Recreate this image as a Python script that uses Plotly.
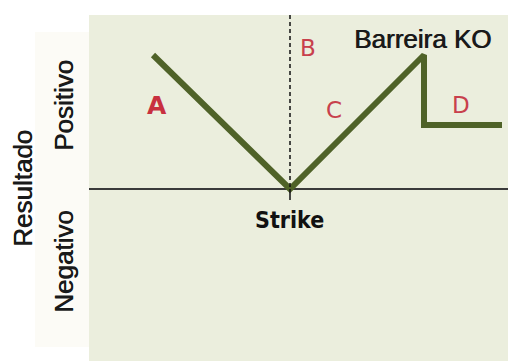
import plotly.graph_objects as go

# Payoff profile (units: horizontal = underlying level, vertical = result)
spot = [64, 201, 335, 335, 413]
payoff = [134, 0, 134, 64, 64]
strike = 201
barrier = 335

region_labels = ["A", "B", "C", "D"]
region_x = [68, 219, 245, 372]
region_y = [84, 141, 79, 84]

x_range = [0, 419]
y_range = [-172, 174]

fig = go.Figure()
fig.add_trace(go.Scatter(
    x=spot, y=payoff, mode="lines",
    line=dict(color="#4F6228", width=6),
    hoverinfo="skip", showlegend=False,
))

# strike dashed line and tick below axis
fig.add_shape(type="line", xref="x", yref="y", x0=strike, x1=strike, y0=y_range[1], y1=0,
              line=dict(color="#111111", width=1.5, dash="4px,3px"))
fig.add_shape(type="line", xref="x", yref="y", x0=strike, x1=strike, y0=0, y1=-11,
              line=dict(color="#111111", width=1.5))

# left label strip
fig.add_shape(type="rect", xref="paper", yref="paper",
              x0=(35 - 89) / 419, x1=0, y0=(361 - 347) / 346, y1=(361 - 32) / 346,
              fillcolor="#FCFBF6", line=dict(width=0), layer="below")

for lab, xx, yy in zip(region_labels, region_x, region_y):
    if lab == "A":
        f = dict(family="DejaVu Sans, Tahoma, sans-serif", size=25, color="#C8303F")
        lab_text = "<b>A</b>"
    else:
        f = dict(family="DejaVu Sans, Tahoma, sans-serif", size=23, color="#C8404C")
        lab_text = lab
    fig.add_annotation(x=xx, y=yy, xref="x", yref="y", text=lab_text, showarrow=False, font=f,
                       xanchor="center", yanchor="middle")

semi = "0.7px 0px 0px #1a1a1a"
fig.add_annotation(x=333, y=150, xref="x", yref="y", text="Barreira KO", showarrow=False,
                   xanchor="center", yanchor="middle",
                   font=dict(family="Liberation Sans, Arial, sans-serif", size=26, color="#1a1a1a",
                             shadow=semi))
fig.add_annotation(x=200, y=-31, xref="x", yref="y", text="<b>Strike</b>", showarrow=False,
                   xanchor="center", yanchor="middle",
                   font=dict(family="DejaVu Sans Condensed, DejaVu Sans, Tahoma, sans-serif", size=23, color="#111111"))

side_font = dict(family="Liberation Sans, Arial, sans-serif", size=26, color="#1a1a1a", shadow=semi)
fig.add_annotation(x=(64 - 89) / 419, y=(361 - 106) / 346, xref="paper", yref="paper",
                   text="Positivo", textangle=-90, showarrow=False, font=side_font,
                   xanchor="center", yanchor="middle")
fig.add_annotation(x=(64 - 89) / 419, y=(361 - 262) / 346, xref="paper", yref="paper",
                   text="Negativo", textangle=-90, showarrow=False, font=side_font,
                   xanchor="center", yanchor="middle")
fig.add_annotation(x=(23 - 89) / 419, y=(361 - 189) / 346, xref="paper", yref="paper",
                   text="Resultado", textangle=-90, showarrow=False, font=side_font,
                   xanchor="center", yanchor="middle")

fig.update_xaxes(range=x_range, showgrid=False, zeroline=False, showticklabels=False,
                 showline=False, ticks="", fixedrange=True)
fig.update_yaxes(range=y_range, showgrid=False, zeroline=True, zerolinecolor="#3a3a3a",
                 zerolinewidth=2, showticklabels=False, showline=False, ticks="", fixedrange=True)

fig.update_layout(
    width=508, height=361,
    margin=dict(l=89, r=0, t=15, b=0),
    paper_bgcolor="#FFFFFF",
    plot_bgcolor="#EBEEDD",
    showlegend=False,
)

fig.write_html("out.html", config={"displayModeBar": False},
               post_script="document.body.style.margin='0';document.body.style.overflow='hidden';")
